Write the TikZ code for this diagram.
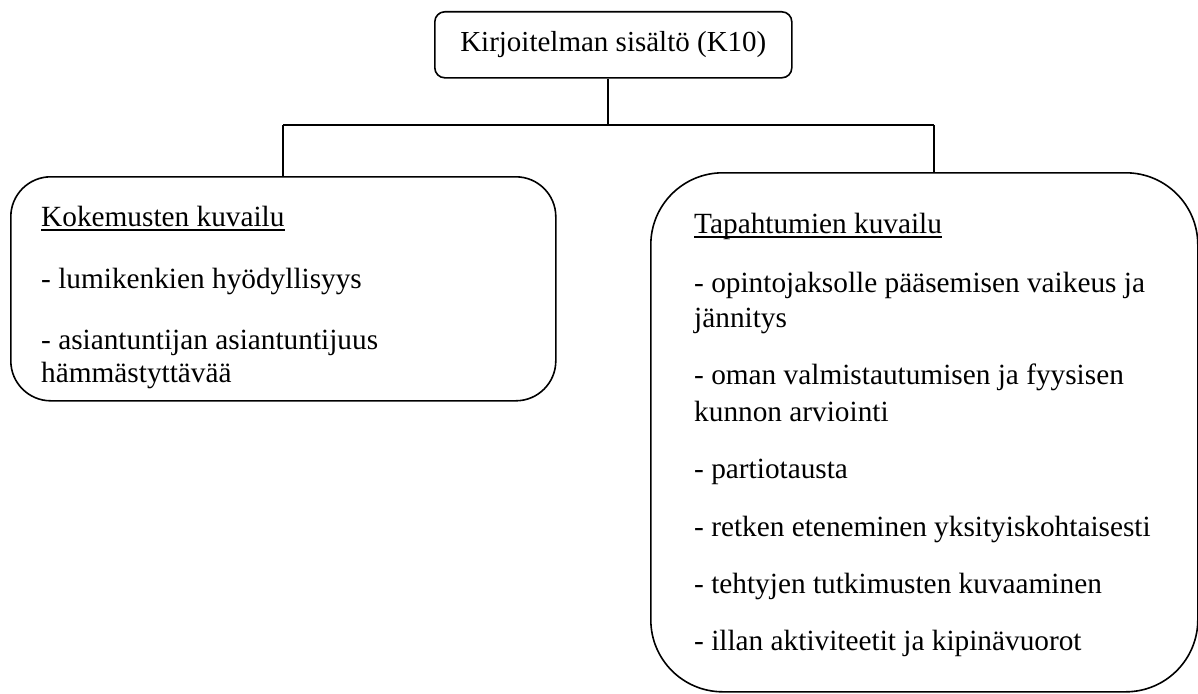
\documentclass[tikz,border=0pt]{standalone}
\usepackage{fontspec}
\setmainfont{Liberation Serif}
% underline at a fixed distance below the baseline
\newcommand\ulword[1]{\setbox0\hbox{#1}\rlap{\rule[-5pt]{\wd0}{1.8pt}}\box0}
\tikzset{
  box/.style={draw, line width=1.6pt, inner sep=0pt, anchor=north west},
  txt/.style={anchor=base west, inner sep=0pt, font=\fontsize{29.3}{33}\selectfont},
  conn/.style={line width=1.6pt},
}
\begin{document}
\begin{tikzpicture}[x=1pt, y=-1pt]
\useasboundingbox (0,0) rectangle (1198,693);

% title box
\node[box, rounded corners=10pt, minimum width=357pt, minimum height=66pt,
      font=\fontsize{29}{33}\selectfont] (top) at (434,11) {Kirjoitelman sisältö (K10)};

% branch boxes
\node[box, rounded corners=40pt, minimum width=545pt, minimum height=224pt] (kok) at (10,176) {};
\node[box, rounded corners=72pt, minimum width=547pt, minimum height=519pt] (tap) at (650,172) {};

% left box text
\node[txt] (k0) at (41,226) {\ulword{Kokemusten kuvailu}};
\node[txt] (k1) at (41,288) {- lumikenkien hyödyllisyys};
\node[txt] (k2) at (41,349) {- asiantuntijan asiantuntijuus};
\node[txt] (k3) at (41,382) {hämmästyttävää};

% right box text
\node[txt] (t0) at (694,233) {\ulword{Tapahtumien kuvailu}};
\node[txt] (t1) at (694,292) {- opintojaksolle pääsemisen vaikeus ja};
\node[txt] (t2) at (694,327) {jännitys};
\node[txt] (t3) at (694,384) {- oman valmistautumisen ja fyysisen};
\node[txt] (t4) at (694,421) {kunnon arviointi};
\node[txt] (t5) at (694,478) {- partiotausta};
\node[txt] (t6) at (694,536) {- retken eteneminen yksityiskohtaisesti};
\node[txt] (t7) at (694,593) {- tehtyjen tutkimusten kuvaaminen};
\node[txt] (t8) at (694,650) {- illan aktiviteetit ja kipinävuorot};

% connectors
\coordinate (barL) at (283,125);
\coordinate (barR) at (934,125);
\coordinate (stem) at (608,125);
\draw[conn] (top.south -| stem) -- (stem);
\draw[conn] (barL) -- (barR);
\draw[conn] (barL) -- (barL |- kok.north);
\draw[conn] (barR) -- (barR |- tap.north);
\end{tikzpicture}
\end{document}
